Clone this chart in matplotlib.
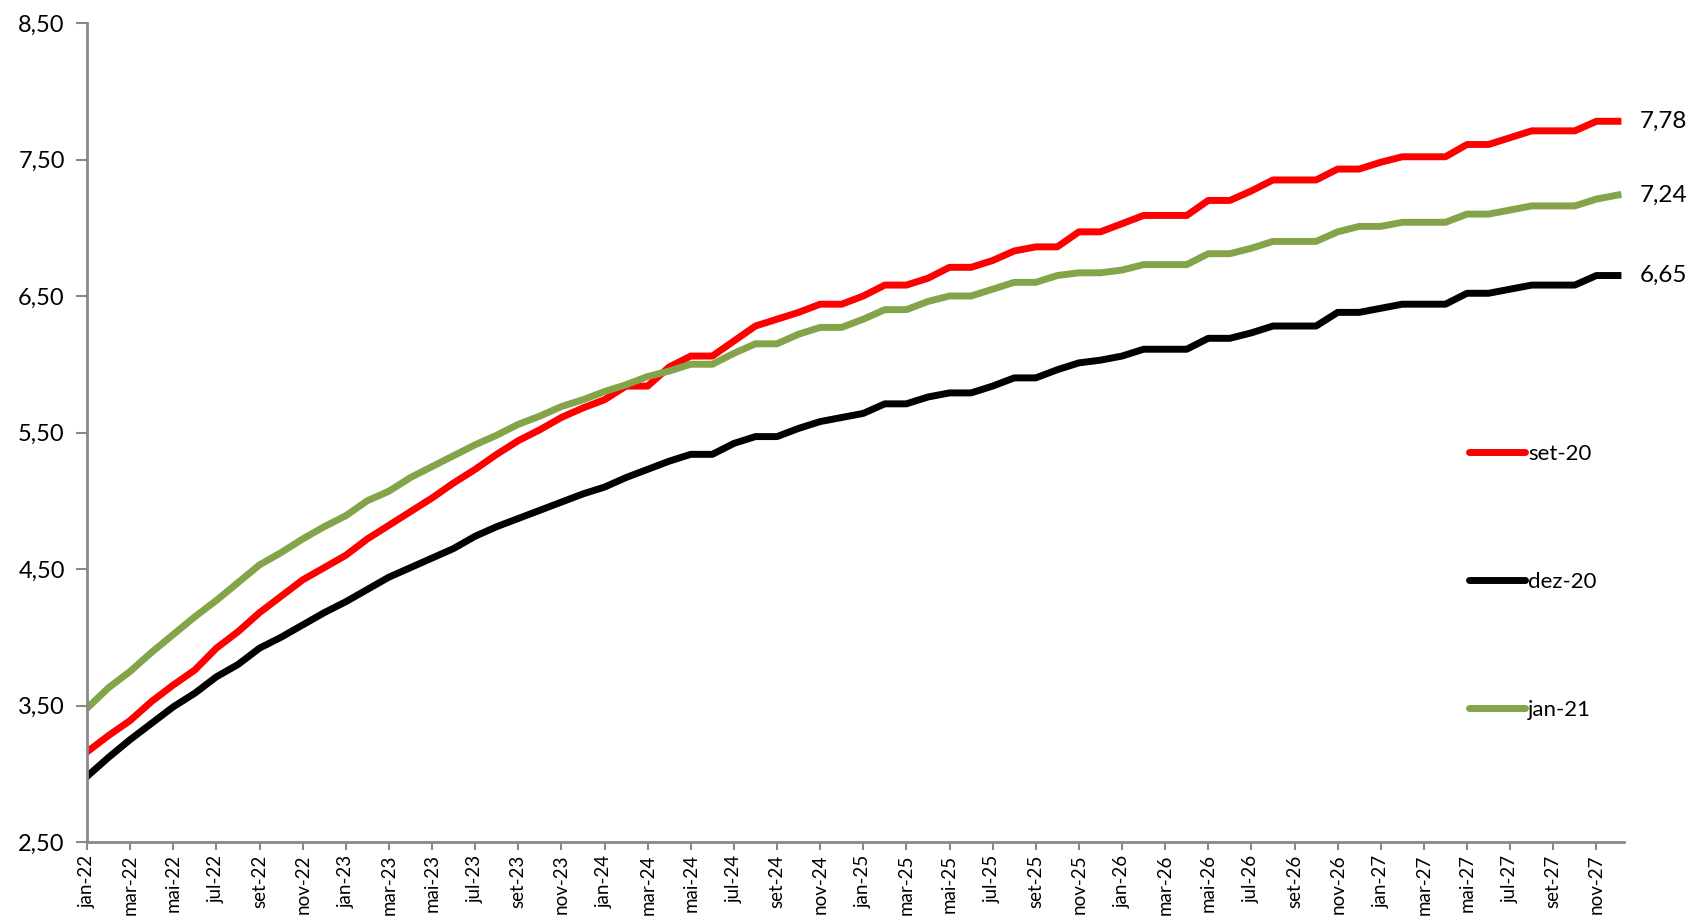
import matplotlib
matplotlib.use("Agg")
import matplotlib.pyplot as plt
import numpy as np

plt.rcParams['font.family'] = ['Lato', 'DejaVu Sans']

meses = ['jan', 'fev', 'mar', 'abr', 'mai', 'jun', 'jul', 'ago', 'set', 'out', 'nov', 'dez']
datas = [m + '-' + str(a) for a in range(22, 28) for m in meses]

set_20 = [3.16, 3.28, 3.39, 3.53, 3.65, 3.76, 3.92, 4.04, 4.18, 4.30, 4.42, 4.51,
          4.60, 4.72, 4.82, 4.92, 5.02, 5.13, 5.23, 5.34, 5.44, 5.52, 5.61, 5.68,
          5.74, 5.84, 5.84, 5.98, 6.06, 6.06, 6.17, 6.28, 6.33, 6.38, 6.44, 6.44,
          6.50, 6.58, 6.58, 6.63, 6.71, 6.71, 6.76, 6.83, 6.86, 6.86, 6.97, 6.97,
          7.03, 7.09, 7.09, 7.09, 7.20, 7.20, 7.27, 7.35, 7.35, 7.35, 7.43, 7.43,
          7.48, 7.52, 7.52, 7.52, 7.61, 7.61, 7.66, 7.71, 7.71, 7.71, 7.78, 7.78]

dez_20 = [2.98, 3.12, 3.25, 3.37, 3.49, 3.59, 3.71, 3.80, 3.92, 4.00, 4.09, 4.18,
          4.26, 4.35, 4.44, 4.51, 4.58, 4.65, 4.74, 4.81, 4.87, 4.93, 4.99, 5.05,
          5.10, 5.17, 5.23, 5.29, 5.34, 5.34, 5.42, 5.47, 5.47, 5.53, 5.58, 5.61,
          5.64, 5.71, 5.71, 5.76, 5.79, 5.79, 5.84, 5.90, 5.90, 5.96, 6.01, 6.03,
          6.06, 6.11, 6.11, 6.11, 6.19, 6.19, 6.23, 6.28, 6.28, 6.28, 6.38, 6.38,
          6.41, 6.44, 6.44, 6.44, 6.52, 6.52, 6.55, 6.58, 6.58, 6.58, 6.65, 6.65]

jan_21 = [3.48, 3.63, 3.75, 3.89, 4.02, 4.15, 4.27, 4.40, 4.53, 4.62, 4.72, 4.81,
          4.89, 5.00, 5.07, 5.17, 5.25, 5.33, 5.41, 5.48, 5.56, 5.62, 5.69, 5.74,
          5.80, 5.85, 5.91, 5.95, 6.00, 6.00, 6.08, 6.15, 6.15, 6.22, 6.27, 6.27,
          6.33, 6.40, 6.40, 6.46, 6.50, 6.50, 6.55, 6.60, 6.60, 6.65, 6.67, 6.67,
          6.69, 6.73, 6.73, 6.73, 6.81, 6.81, 6.85, 6.90, 6.90, 6.90, 6.97, 7.01,
          7.01, 7.04, 7.04, 7.04, 7.10, 7.10, 7.13, 7.16, 7.16, 7.16, 7.21, 7.24]

series = [('set-20', set_20, '#ff0000'),
          ('dez-20', dez_20, '#000000'),
          ('jan-21', jan_21, '#84a44a')]

fig = plt.figure(figsize=(16.93, 9.18), dpi=100)
ax = fig.add_axes([87 / 1693, 76 / 918, 1537 / 1693, 819 / 918])

x = np.arange(len(datas))
for nome, valores, cor in series:
    ax.plot(x, valores, color=cor, lw=5, solid_joinstyle='round', label=nome)
    ax.annotate(f'{valores[-1]:.2f}'.replace('.', ','), (x[-1], valores[-1]),
                xytext=(16, 0), textcoords='offset points', va='center',
                fontsize=17.5, color='black', annotation_clip=False)

ax.set_xlim(0, 71.28)
ax.set_ylim(2.5, 8.5)
ax.set_yticks(np.arange(2.5, 8.51, 1.0))
ax.set_yticklabels([f'{v:.2f}'.replace('.', ',') for v in np.arange(2.5, 8.51, 1.0)])
ax.set_xticks(x[::2])
ax.set_xticklabels(datas[::2], rotation=90)

for s in ['top', 'right']:
    ax.spines[s].set_visible(False)
for s in ['left', 'bottom']:
    ax.spines[s].set_color('#888888')
    ax.spines[s].set_linewidth(2)
ax.tick_params(axis='both', colors='#888888', width=1.5, labelcolor='black')
ax.tick_params(axis='y', length=8, labelsize=17, pad=8)
ax.tick_params(axis='x', length=6, labelsize=13.5, pad=3)

leg = ax.legend(loc='upper left', bbox_to_anchor=(1458 / 1693, 1 - 433 / 918),
                bbox_transform=fig.transFigure, frameon=False, fontsize=16,
                labelspacing=4.85, handlelength=2.5, handletextpad=0.15, borderpad=0)
for linha in leg.get_lines():
    linha.set_solid_capstyle('round')

fig.savefig('out.png', dpi=100)
